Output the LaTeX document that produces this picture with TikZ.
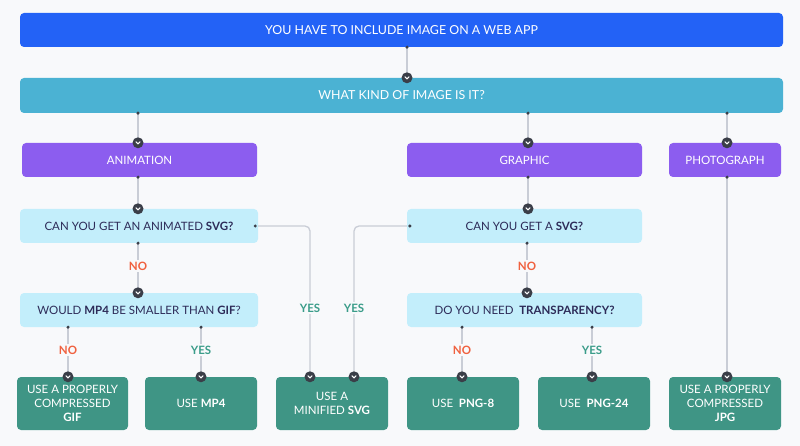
\documentclass[tikz,border=0pt]{standalone}
\usepackage{fontspec}
\setmainfont{Lato}
\usetikzlibrary{calc}
\definecolor{bg}{HTML}{F8F9FB}
\definecolor{cblue}{HTML}{2362F6}
\definecolor{ckind}{HTML}{4BB2D3}
\definecolor{cpurple}{HTML}{8C5DEF}
\definecolor{ccyan}{HTML}{C3EEFB}
\definecolor{cteal}{HTML}{3F9585}
\definecolor{cnavy}{HTML}{2D2B58}
\definecolor{cdark}{HTML}{3A3E48}
\definecolor{cline}{HTML}{C9CDD6}
\definecolor{cno}{HTML}{F0613F}
\definecolor{cyes}{HTML}{3A9C89}
\tikzset{
  box/.style={rounded corners=4pt, inner sep=0pt, align=center, minimum height=34pt},
  bluebox/.style={box, fill=cblue, text=white, minimum width=763pt, font=\fontsize{12.4}{14}\selectfont},
  kindbox/.style={box, fill=ckind, text=white, minimum width=763pt, minimum height=35pt, font=\fontsize{12.4}{14}\selectfont},
  purplebox/.style={box, fill=cpurple, text=white},
  qbox/.style={box, fill=ccyan, text=cnavy},
  ansbox/.style={box, fill=cteal, text=white, minimum width=112pt, minimum height=53pt, font=\fontsize{11.5}{14}\selectfont},
  conn/.style={draw=cline, line width=1.3pt},
  nolab/.style={fill=bg, text=cno, font=\fontsize{11.5}{13}\selectfont\bfseries, inner sep=2pt},
  yeslab/.style={fill=bg, text=cyes, font=\fontsize{11.5}{13}\selectfont\bfseries, inner sep=2pt},
  chev/.pic={\fill[cdark] (0,0) circle (5.5pt);
    \draw[white, line width=1pt, line cap=round, line join=round] (-2,-1) -- (0,1.2) -- (2,-1);},
  srcdot/.pic={\fill[cdark] (0,0) circle (1.7pt);}
}
\begin{document}
\begin{tikzpicture}[x=1pt,y=-1pt, font=\fontsize{11.5}{13.5}\selectfont]
\fill[bg] (0,0) rectangle (800,446);
\useasboundingbox (0,0) rectangle (800,446);

\node[bluebox] (top) at (401.5,30) {YOU HAVE TO INCLUDE IMAGE ON A WEB APP};
\node[kindbox] (kind) at (401.5,95.5) {WHAT KIND OF IMAGE IS IT?};
\node[purplebox, minimum width=235pt] (anim) at (139.5,160) {ANIMATION};
\node[purplebox, minimum width=235pt] (graphic) at (524.5,160) {GRAPHIC};
\node[purplebox, minimum width=112pt] (photo) at (725,160) {PHOTOGRAPH};
\node[qbox, minimum width=238pt] (q1) at (139,226) {CAN YOU GET AN ANIMATED \textbf{SVG?}};
\node[qbox, minimum width=235pt] (q2) at (524.5,226) {CAN YOU GET A \textbf{SVG?}};
\node[qbox, minimum width=238pt] (q3) at (139,310) {WOULD \textbf{MP4} BE SMALLER THAN \textbf{GIF}?};
\node[qbox, minimum width=235pt] (q4) at (524.5,310) {DO YOU NEED\enspace\textbf{TRANSPARENCY?}};
\node[ansbox, minimum width=111pt] (gif) at (72.5,403.5) {USE A PROPERLY\\COMPRESSED\\\textbf{GIF}};
\node[ansbox] (mp4) at (201,403.5) {USE \textbf{MP4}};
\node[ansbox] (svg) at (332,403.5) {USE A\\MINIFIED \textbf{SVG}};
\node[ansbox] (png8) at (463,403.5) {USE\enspace\textbf{PNG-8}};
\node[ansbox] (png24) at (594,403.5) {USE\enspace\textbf{PNG-24}};
\node[ansbox] (jpg) at (725,403.5) {USE A PROPERLY\\COMPRESSED\\\textbf{JPG}};

% connectors
\draw[conn] (top.south -| 407,0) -- (kind.north -| 407,0);
\draw[conn] (kind.south -| 138,0) -- (anim.north -| 138,0);
\draw[conn] (kind.south -| 528,0) -- (graphic.north -| 528,0);
\draw[conn] (kind.south -| 727,0) -- (photo.north -| 727,0);
\draw[conn] (anim.south -| 138,0) -- (q1.north -| 138,0);
\draw[conn] (graphic.south -| 528,0) -- (q2.north -| 528,0);
\draw[conn] (q1.south -| 138,0) -- (q3.north -| 138,0);
\draw[conn] (q2.south -| 527,0) -- (q4.north -| 527,0);
\draw[conn] (q3.south -| 68,0) -- (gif.north -| 68,0);
\draw[conn] (q3.south -| 201,0) -- (mp4.north -| 201,0);
\draw[conn] (q4.south -| 462,0) -- (png8.north -| 462,0);
\draw[conn] (q4.south -| 592,0) -- (png24.north -| 592,0);
\draw[conn] (photo.south -| 727,0) -- (jpg.north -| 727,0);
\draw[conn, rounded corners=5pt] (q1.east) -- (q1.east -| 310,0) -- (svg.north -| 310,0);
\draw[conn, rounded corners=5pt] (q2.west) -- (q2.west -| 354,0) -- (svg.north -| 354,0);

% labels
\node[nolab] (no1) at (138,266) {NO};
\node[nolab] (no2) at (527,266) {NO};
\node[nolab] (no3) at (68,350) {NO};
\node[yeslab] (yes1) at (201,350) {YES};
\node[nolab] (no4) at (462,350) {NO};
\node[yeslab] (yes2) at (592,350) {YES};
\node[yeslab] (yes3) at (310,308) {YES};
\node[yeslab] (yes4) at (354,308) {YES};

% source dots
\foreach \n/\x in {top.south/407, kind.south/138, kind.south/528, kind.south/727,
  anim.south/138, graphic.south/528, q1.south/138, q2.south/527,
  q3.south/68, q3.south/201, q4.south/462, q4.south/592, photo.south/727}
  \pic at (\n -| \x,0) {srcdot};
\pic at ($(q1.east)+(-3,0)$) {srcdot};
\pic at ($(q2.west)+(3,0)$) {srcdot};

% chevrons
\foreach \n/\x in {kind.north/407, anim.north/138, graphic.north/528, photo.north/727,
  q1.north/138, q2.north/528, q3.north/138, q4.north/527,
  gif.north/68, mp4.north/201, svg.north/310, svg.north/354,
  png8.north/462, png24.north/592, jpg.north/727}
  \pic at (\n -| \x,0) {chev};
\end{tikzpicture}
\end{document}
